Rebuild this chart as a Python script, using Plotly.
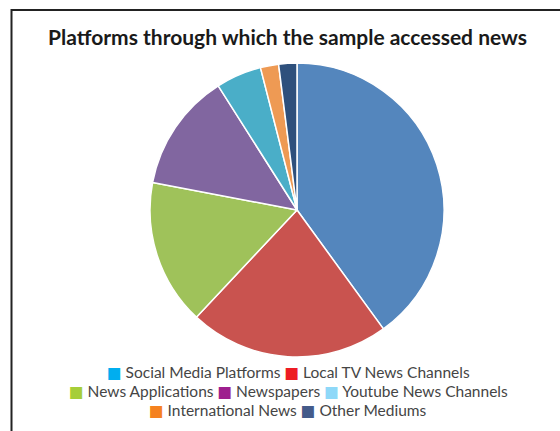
import plotly.graph_objects as go

labels = ["Social Media Platforms", "Local TV News Channels", "News Applications",
          "Newspapers", "Youtube News Channels", "International News", "Other Mediums"]
values = [40, 22, 16, 13, 5, 2, 2]
slice_colors = ["#5486BD", "#C9534F", "#9FC25A", "#8166A0", "#4AAEC8", "#EE9A54", "#2E507C"]
legend_colors = ["#00AEEF", "#ED1C24", "#A6CE39", "#9E1F8E", "#8ED8F8", "#F58220", "#445B8A"]
legend_rows = [[0, 1], [2, 3, 4], [5, 6]]
title = "Platforms through which the sample accessed news"

W, H = 560, 431
cx, cy, r = 297, 210, 147

fig = go.Figure()
fig.add_trace(go.Pie(
    labels=labels, values=values, sort=False, direction="clockwise", rotation=0,
    marker=dict(colors=slice_colors, line=dict(color="white", width=1.5)),
    textinfo="none", showlegend=False, hoverinfo="label+percent",
    domain=dict(x=[(cx - r) / W, (cx + r) / W], y=[1 - (cy + r) / H, 1 - (cy - r) / H]),
))

annotations = [dict(
    text="<b>" + title + "</b>", x=287.5 / W, y=1 - 36.5 / H, xref="paper", yref="paper",
    xanchor="center", yanchor="middle", showarrow=False,
    font=dict(family="Lato", size=21, color="#1a1a1a"),
)]
row_y = [372, 391.5, 410]
for row, yy in zip(legend_rows, row_y):
    parts = []
    for i in row:
        parts.append("<span style='color:%s;font-family:DejaVu Sans'>■</span> %s" % (legend_colors[i], labels[i]))
    annotations.append(dict(
        text=" ".join(parts), x=288 / W, y=1 - yy / H, xref="paper", yref="paper",
        xanchor="center", yanchor="middle", showarrow=False,
        font=dict(family="Lato", size=15.5, color="#454545"),
    ))

fig.update_layout(
    width=W, height=H, margin=dict(l=0, r=0, t=0, b=0),
    paper_bgcolor="white", plot_bgcolor="white",
    annotations=annotations,
    shapes=[dict(type="rect", xref="paper", yref="paper",
                 x0=11.5 / W, x1=1.2, y0=-0.2, y1=1 - 10 / H,
                 line=dict(color="#222222", width=2), fillcolor="rgba(0,0,0,0)")],
)
fig.write_html("out.html")
